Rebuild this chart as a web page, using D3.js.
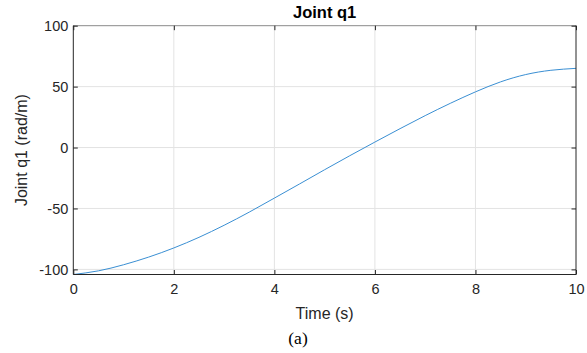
<!DOCTYPE html>
<html>
<head>
<meta charset="utf-8">
<script src="https://cdn.jsdelivr.net/npm/d3@7"></script>
<style>
  html, body { margin: 0; padding: 0; background: #fff; }
  svg { display: block; }
</style>
</head>
<body>
<svg id="chart" width="587" height="353"></svg>
<script>
// ---- data ----
const timeValues = [0, 0.5, 1.0, 1.5, 2.0, 2.5, 3.0, 3.5, 4.0, 4.5, 5.0, 5.5, 6.0, 6.5, 7.0, 7.5, 8.0, 8.5, 9.0, 9.5, 10.0];
const q1Values   = [-104.2, -101.2, -96.2, -89.9, -82.4, -73.7, -63.8, -53.0, -41.5, -29.9, -18.2, -6.7, 4.5, 15.5, 26.2, 36.3, 45.7, 53.9, 59.9, 63.4, 65.0];
const xTicks = [0, 2, 4, 6, 8, 10];
const yTicks = [-100, -50, 0, 50, 100];
const xDomain = [0, 10];
const yDomain = [-104.2, 100];
const titleText = "Joint q1";
const xLabelText = "Time (s)";
const yLabelText = "Joint q1 (rad/m)";
const captionText = "(a)";

const svg = d3.select("#chart");
const L = 73.3, R = 576, T = 25.7, B = 274.5;
const x = d3.scaleLinear().domain(xDomain).range([L, R]);
const y = d3.scaleLinear().domain(yDomain).range([B, T]);

const axisColor = "#262626";
const gridColor = "#e3e3e3";
const font = "'Liberation Sans', Arial, Helvetica, sans-serif";
const fmt = d => String(d); // hyphen-minus like the reference

// grid
const grid = svg.append("g");
grid.selectAll("line.gx").data(xTicks.filter(d => d > xDomain[0] && d < xDomain[1])).enter()
  .append("line").attr("x1", d => x(d)).attr("x2", d => x(d)).attr("y1", T).attr("y2", B)
  .attr("stroke", gridColor).attr("stroke-width", 1);
grid.selectAll("line.gy").data(yTicks.filter(d => d > yDomain[0] && d < yDomain[1])).enter()
  .append("line").attr("y1", d => y(d)).attr("y2", d => y(d)).attr("x1", L).attr("x2", R)
  .attr("stroke", gridColor).attr("stroke-width", 1);

// data line
const line = d3.line().x((d, i) => x(timeValues[i])).y(d => y(d)).curve(d3.curveNatural);
svg.append("path").datum(q1Values).attr("d", line)
  .attr("fill", "none").attr("stroke", "#3a8fd3").attr("stroke-width", 1);

// axes (ticks inward)
const tickLen = 4.5;
const xAxisB = d3.axisBottom(x).tickValues(xTicks).tickSize(-tickLen).tickPadding(9).tickFormat(fmt);
const xAxisT = d3.axisTop(x).tickValues(xTicks).tickSize(-tickLen).tickFormat("");
const yAxisL = d3.axisLeft(y).tickValues(yTicks).tickSize(-tickLen).tickPadding(5).tickFormat(fmt);
const yAxisR = d3.axisRight(y).tickValues(yTicks).tickSize(-tickLen).tickFormat("");

function style(g) {
  g.selectAll("path.domain").attr("stroke", axisColor).attr("stroke-width", 1);
  g.selectAll(".tick line").attr("stroke", axisColor).attr("stroke-width", 1);
  g.selectAll(".tick text").attr("fill", axisColor).style("font-family", font).style("font-size", "14.5px");
}
const gxb = svg.append("g").attr("transform", `translate(0,${B})`).call(xAxisB).call(style);
gxb.selectAll("path.domain").attr("d", `M${L},0H${R}`);
const gxt = svg.append("g").attr("transform", `translate(0,${T})`).call(xAxisT).call(style);
gxt.selectAll("path.domain").attr("d", `M${L},0H${R}`).attr("stroke", "#8a8a8a");
const gyl = svg.append("g").attr("transform", `translate(${L},0)`).call(yAxisL).call(style);
gyl.selectAll("path.domain").attr("d", `M0,${T}V${B}`);
const gyr = svg.append("g").attr("transform", `translate(${R},0)`).call(yAxisR).call(style);
gyr.selectAll("path.domain").attr("d", `M0,${T}V${B}`);

// texts
svg.append("text").attr("x", (L + R) / 2).attr("y", 18).attr("text-anchor", "middle")
  .style("font-family", font).style("font-size", "16.5px").style("font-weight", "bold")
  .attr("fill", "#000").text(titleText);
svg.append("text").attr("x", (L + R) / 2).attr("y", 318.5).attr("text-anchor", "middle")
  .style("font-family", font).style("font-size", "16px").attr("fill", axisColor).text(xLabelText);
svg.append("text").attr("transform", `translate(27,${(T + B) / 2}) rotate(-90)`).attr("text-anchor", "middle")
  .style("font-family", font).style("font-size", "16px").attr("fill", axisColor).text(yLabelText);
svg.append("text").attr("x", 298).attr("y", 344).attr("text-anchor", "middle")
  .style("font-family", "'Liberation Serif', 'Times New Roman', serif").style("font-size", "17.5px")
  .attr("fill", "#000").text(captionText);
</script>
</body>
</html>
